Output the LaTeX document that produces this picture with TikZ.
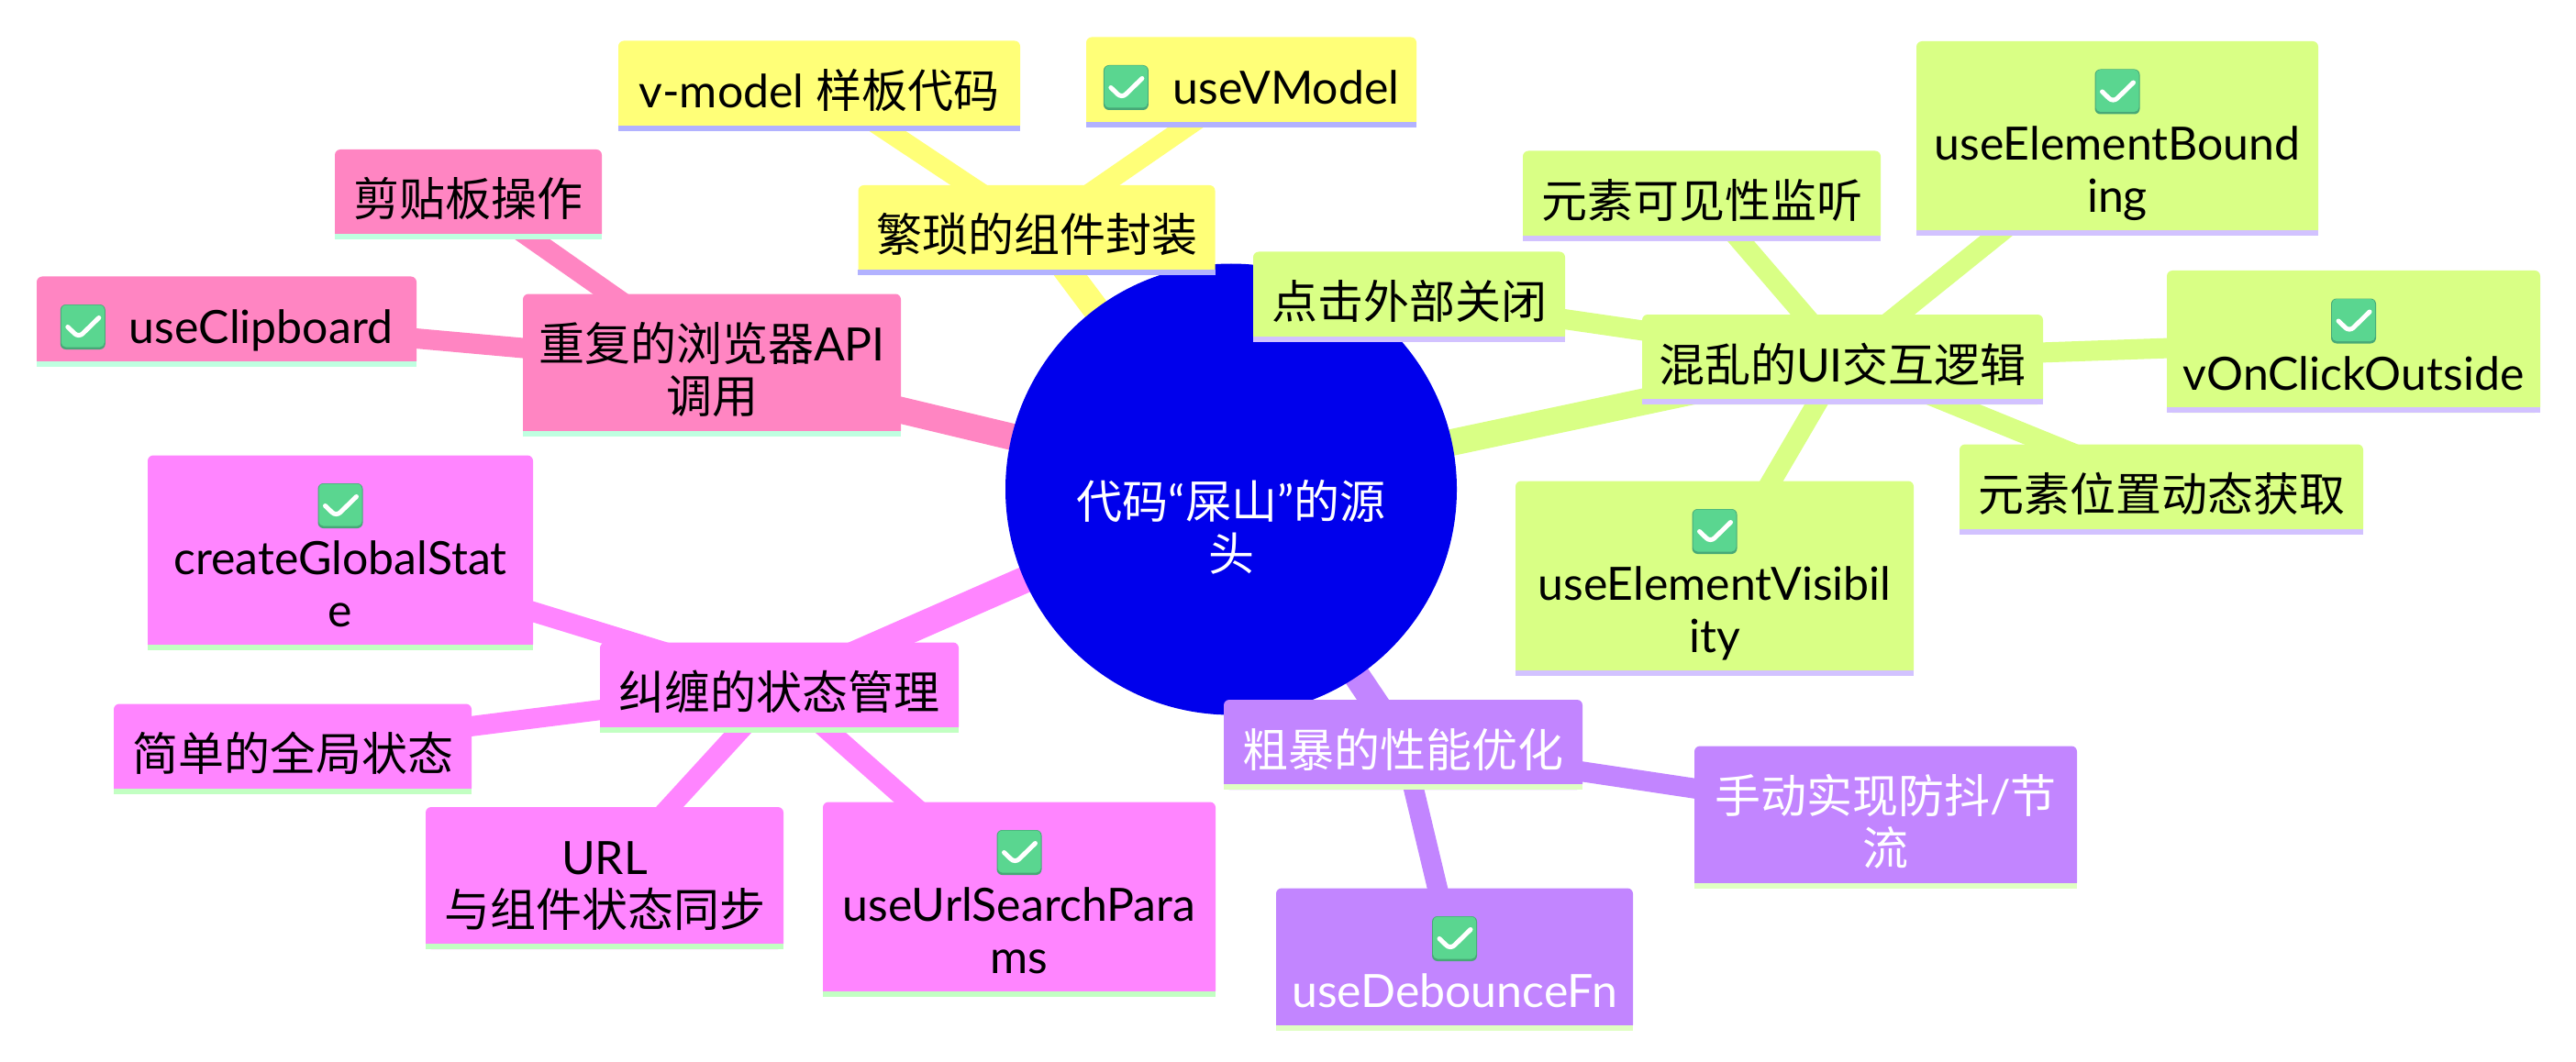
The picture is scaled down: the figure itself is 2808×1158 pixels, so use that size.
\documentclass[tikz,border=0pt]{standalone}
\usepackage{fontspec}
\usetikzlibrary{backgrounds}
\setmainfont{Lato}
\newfontfamily\cjk{Noto Sans CJK SC}
\definecolor{rootblue}{HTML}{0000EC}
\definecolor{yellowbox}{HTML}{FFFF78}
\definecolor{yellowbar}{HTML}{B2B2FF}
\definecolor{pinkbox}{HTML}{FF85C2}
\definecolor{pinkbar}{HTML}{BFFFE0}
\definecolor{magentabox}{HTML}{FF85FF}
\definecolor{magentabar}{HTML}{C2FFC2}
\definecolor{purplebox}{HTML}{C285FF}
\definecolor{purplebar}{HTML}{E0FFC2}
\definecolor{limebox}{HTML}{D9FF85}
\definecolor{limebar}{HTML}{D2C2FF}
\definecolor{tickdark}{HTML}{47A877}
\definecolor{ticklight}{HTML}{5AD690}
\newcommand{\donemark}{\tikz[baseline=0pt,x=1pt,y=1pt]{
    \fill[tickdark,rounded corners=6pt] (0,-6.5) rectangle (49,42.5);
    \fill[ticklight,rounded corners=5pt] (1,-4) rectangle (48,42);
    \draw[white,line width=5pt,line cap=round,line join=round] (8,18) -- (20,6.5) -- (42,28);
}}
\tikzset{
    mmbox/.style={
        rectangle, fill=#1, rounded corners=6pt, inner xsep=0pt, inner ysep=0pt, align=center,
        font=\fontsize{50}{57}\selectfont, text height=73pt, text depth=25pt
    },
    twolines/.style={text height=130pt},
    threelines/.style={text height=187pt},
    yellownode/.style={mmbox=yellowbox, minimum width=#1},
    pinknode/.style={mmbox=pinkbox, minimum width=#1},
    magentanode/.style={mmbox=magentabox, minimum width=#1},
    purplenode/.style={mmbox=purplebox, text=white, minimum width=#1},
    limenode/.style={mmbox=limebox, minimum width=#1},
    rootnode/.style={circle, fill=rootblue, text=white, minimum size=492pt, inner sep=0pt, align=center,
        font=\fontsize{50}{57}\selectfont, text height=200pt, text depth=23pt}
}
\begin{document}
\begin{tikzpicture}[x=1pt,y=-1pt]
    \useasboundingbox (0,0) rectangle (2808,1158);
    \node[rootnode] (root) at (1342,533.5) {{\cjk 代码}“{\cjk 屎山}”{\cjk 的源}\\{\cjk 头}};

    \node[yellownode=389pt] (wrap) at (1130,251) {\cjk 繁琐的组件封装};
    \node[yellownode=438pt] (vmodel) at (893,93.5) {v-model {\cjk 样板代码}};
    \node[yellownode=360pt] (usevmodel) at (1364,89.5) {\donemark\hspace{27pt}useVModel};

    \node[pinknode=412pt,twolines] (browser) at (776,398) {{\cjk 重复的浏览器}API\\{\cjk 调用}};
    \node[pinknode=291pt] (clipboard) at (510.5,212) {\cjk 剪贴板操作};
    \node[pinknode=414pt] (useclipboard) at (247,350.5) {\donemark\hspace{26pt}useClipboard};

    \node[magentanode=391pt] (state) at (849.5,749.5) {\cjk 纠缠的状态管理};
    \node[magentanode=420pt,threelines] (globalstate) at (371,602.5) {\donemark\\createGlobalStat\\e};
    \node[magentanode=390pt] (simplestate) at (319,816.5) {\cjk 简单的全局状态};
    \node[magentanode=390pt,twolines] (urlsync) at (659,957.5) {URL\\{\cjk 与组件状态同步}};
    \node[magentanode=428pt,threelines] (urlparams) at (1111,980.5) {\donemark\\useUrlSearchPara\\ms};

    \node[purplenode=391pt] (perf) at (1529.5,812) {\cjk 粗暴的性能优化};
    \node[purplenode=417pt,twolines] (debounce) at (2055.5,891) {{\cjk 手动实现防抖}/{\cjk 节}\\{\cjk 流}};
    \node[purplenode=389pt,twolines] (usedebounce) at (1585.5,1046) {\donemark\\useDebounceFn};

    \node[limenode=437pt] (ui) at (2008.5,392) {{\cjk 混乱的}UI{\cjk 交互逻辑}};
    \node[limenode=340pt] (outside) at (1536,323.5) {\cjk 点击外部关闭};
    \node[limenode=390pt] (visible) at (1855,213.5) {\cjk 元素可见性监听};
    \node[limenode=438pt,threelines] (bounding) at (2308,151) {\donemark\\useElementBound\\ing};
    \node[limenode=407pt,twolines] (clickoutside) at (2565.5,372.5) {\donemark\\vOnClickOutside};
    \node[limenode=440pt] (position) at (2356,533.5) {\cjk 元素位置动态获取};
    \node[limenode=434pt,threelines] (visibility) at (1869,630.5) {\donemark\\useElementVisibil\\ity};

    \foreach \kid/\barcol in {wrap/yellowbar,vmodel/yellowbar,usevmodel/yellowbar,
        browser/pinkbar,clipboard/pinkbar,useclipboard/pinkbar,
        state/magentabar,globalstate/magentabar,simplestate/magentabar,urlsync/magentabar,urlparams/magentabar,
        perf/purplebar,debounce/purplebar,usedebounce/purplebar,
        ui/limebar,outside/limebar,visible/limebar,bounding/limebar,clickoutside/limebar,position/limebar,visibility/limebar}
        \fill[\barcol] (\kid.south west) rectangle ([yshift=6pt]\kid.south east);

    \begin{pgfonlayer}{background}
        \draw[yellowbox,line width=29pt] (root.center) -- (wrap.center);
        \draw[pinkbox,line width=29pt] (root.center) -- (browser.center);
        \draw[magentabox,line width=29pt] (root.center) -- (state.center);
        \draw[purplebox,line width=29pt] (root.center) -- (perf.center);
        \draw[limebox,line width=29pt] (root.center) -- (ui.center);
        \foreach \kid in {vmodel,usevmodel}
            \draw[yellowbox,line width=22pt] (wrap.center) -- (\kid.center);
        \foreach \kid in {clipboard,useclipboard}
            \draw[pinkbox,line width=22pt] (browser.center) -- (\kid.center);
        \foreach \kid in {globalstate,simplestate,urlsync,urlparams}
            \draw[magentabox,line width=22pt] (state.center) -- (\kid.center);
        \foreach \kid in {debounce,usedebounce}
            \draw[purplebox,line width=22pt] (perf.center) -- (\kid.center);
        \foreach \kid in {outside,visible,bounding,clickoutside,position,visibility}
            \draw[limebox,line width=22pt] (ui.center) -- (\kid.center);
    \end{pgfonlayer}
\end{tikzpicture}
\end{document}
